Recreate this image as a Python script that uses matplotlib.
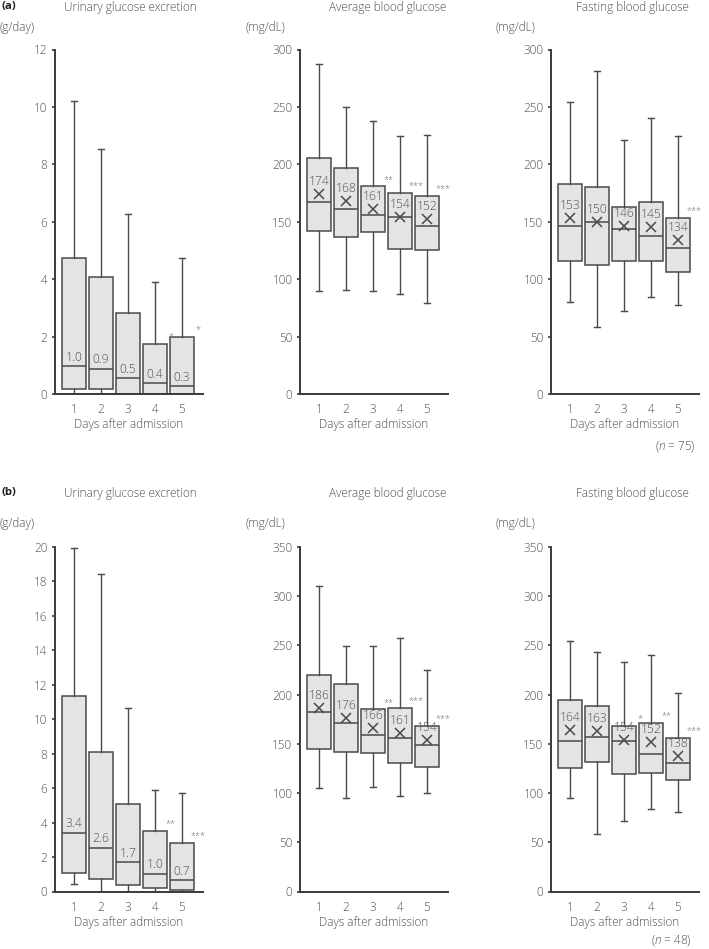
import matplotlib.pyplot as plt

plt.rcParams['font.family'] = ['Open Sans', 'DejaVu Sans']
plt.rcParams['font.weight'] = 'light'
plt.rcParams['axes.labelweight'] = 'light'
plt.rcParams['mathtext.fontset'] = 'custom'
plt.rcParams['mathtext.rm'] = 'Open Sans:light'
plt.rcParams['mathtext.it'] = 'Open Sans:italic:light'

# ---- data ----
days = [1, 2, 3, 4, 5]

# (a) n = 75
a_uge_lo = [0.0, 0.0, 0.0, 0.0, 0.0]
a_uge_q1 = [0.17, 0.17, 0.0, 0.0, 0.0]
a_uge_med = [0.97, 0.87, 0.55, 0.37, 0.27]
a_uge_q3 = [4.73, 4.08, 2.82, 1.75, 1.99]
a_uge_hi = [10.2, 8.53, 6.28, 3.9, 4.74]
a_uge_lab = [1.0, 0.9, 0.5, 0.4, 0.3]
a_uge_sig = ['', '', '', '*', '*']

a_abg_lo = [89.5, 91, 90, 87, 79]
a_abg_q1 = [142, 137, 141, 126, 125.6]
a_abg_med = [167, 161.3, 155.8, 154, 146.5]
a_abg_q3 = [205.8, 196.5, 180.8, 175, 172.7]
a_abg_hi = [287, 250, 238, 224.4, 225.3]
a_abg_mean = [174, 168, 161, 154, 152]
a_abg_sig = ['', '', '**', '***', '***']

a_fbg_lo = [79.7, 58.7, 72.4, 84.3, 77.9]
a_fbg_q1 = [115.7, 112, 115.7, 115.7, 106.4]
a_fbg_med = [146, 150, 143.6, 137.8, 127]
a_fbg_q3 = [183, 180, 162.8, 167.4, 153.2]
a_fbg_hi = [254, 281, 221, 240.4, 225]
a_fbg_mean = [153, 150, 146, 145, 134]
a_fbg_sig = ['', '', '', '', '***']

# (b) n = 48
b_uge_lo = [0.46, 0.0, 0.0, 0.0, 0.0]
b_uge_q1 = [1.06, 0.72, 0.35, 0.19, 0.06]
b_uge_med = [3.4, 2.55, 1.7, 1.03, 0.64]
b_uge_q3 = [11.36, 8.08, 5.07, 3.52, 2.8]
b_uge_hi = [19.92, 18.43, 10.68, 5.92, 5.73]
b_uge_lab = [3.4, 2.6, 1.7, 1.0, 0.7]
b_uge_sig = ['', '', '', '**', '***']

b_abg_lo = [105.4, 95.2, 106.5, 97, 100.3]
b_abg_q1 = [145.2, 141.8, 140.8, 131, 126]
b_abg_med = [182, 171, 158.5, 156, 149.3]
b_abg_q3 = [219.7, 210.9, 185, 186.4, 168]
b_abg_hi = [310.2, 249.7, 249, 257.8, 225.5]
b_abg_mean = [186, 176, 166, 161, 154]
b_abg_sig = ['', '', '**', '***', '***']

b_fbg_lo = [94.8, 58.6, 71.4, 84.1, 80.7]
b_fbg_q1 = [125.6, 131.6, 119.3, 120.3, 112.9]
b_fbg_med = [152.4, 157.1, 153.4, 139.4, 131]
b_fbg_q3 = [194.3, 188.2, 168.2, 171.5, 156.1]
b_fbg_hi = [254.2, 243.8, 233.1, 240.5, 201.3]
b_fbg_mean = [164, 163, 154, 152, 138]
b_fbg_sig = ['', '', '*', '**', '***']

titles = ['Urinary glucose excretion', 'Average blood glucose', 'Fasting blood glucose']
units = ['(g/day)', '(mg/dL)', '(mg/dL)']

TXT = '#505050'
EDGE = '#4a4a4a'
FILL = '#e4e4e4'
FS = 8.5

W, H = 709, 949
fig = plt.figure(figsize=(W / 100, H / 100), dpi=100)


def add_ax(left, top, right, bottom):
    return fig.add_axes([left / W, 1 - bottom / H, (right - left) / W, (bottom - top) / H])


def draw(ax, lo, q1, med, q3, hi, ymax, ystep, mean=None, labels=None, sig=None):
    stats = []
    for i in range(len(days)):
        s = dict(med=med[i], q1=q1[i], q3=q3[i], whislo=lo[i], whishi=hi[i], fliers=[])
        if mean is not None:
            s['mean'] = mean[i]
        stats.append(s)
    ax.bxp(stats, positions=days, widths=0.88, capwidths=0.25,
           showmeans=mean is not None, patch_artist=True,
           boxprops=dict(facecolor=FILL, edgecolor=EDGE, linewidth=1.1),
           medianprops=dict(color=EDGE, linewidth=1.1),
           whiskerprops=dict(color=EDGE, linewidth=1.0),
           capprops=dict(color=EDGE, linewidth=1.0),
           meanprops=dict(marker='x', markersize=7, markeredgecolor=EDGE,
                          markeredgewidth=1.1, linestyle='none'))
    for i, x in enumerate(days):
        if mean is not None:
            ax.annotate(f'{mean[i]:.0f}', (x, mean[i]), xytext=(0, 9), textcoords='offset points',
                        ha='center', va='center', fontsize=FS + 0.2, color=TXT)
        else:
            ax.annotate(f'{labels[i]:.1f}', (x, med[i]), xytext=(0, 6.5), textcoords='offset points',
                        ha='center', va='center', fontsize=FS + 0.2, color=TXT)
        if sig[i]:
            ax.annotate(sig[i], (x + 0.58, q3[i]), xytext=(0, 2), textcoords='offset points',
                        ha='center', va='bottom', fontsize=6.5, color='#777777')
    ax.set_xlim(0.3, 5.78)
    ax.set_ylim(0, ymax)
    ax.set_yticks([ystep * k for k in range(int(round(ymax / ystep)) + 1)])
    ax.set_xticks(days)
    ax.set_xticklabels([str(d) for d in days])
    for side in ['top', 'right']:
        ax.spines[side].set_visible(False)
    for side in ['left', 'bottom']:
        ax.spines[side].set_color('#3a3a3a')
        ax.spines[side].set_linewidth(1.4)
    ax.tick_params(axis='y', direction='out', length=2.5, width=1.2, color='#3a3a3a',
                   labelsize=FS, labelcolor=TXT, pad=3)
    ax.tick_params(axis='x', length=0, labelsize=FS, labelcolor=TXT, pad=6.5)
    ax.set_xlabel('Days after admission', fontsize=FS, color=TXT, labelpad=1.5)
    ax.patch.set_alpha(0)


lefts = [55, 300, 551]
width = 148
rows = [(49.5, 394), (547, 891.5)]
title_y = [7, 493]
unit_y = [28, 524]
title_x = [130, 388, 632]

panels = [
    [dict(lo=a_uge_lo, q1=a_uge_q1, med=a_uge_med, q3=a_uge_q3, hi=a_uge_hi, labels=a_uge_lab, sig=a_uge_sig, ymax=12, ystep=2),
     dict(lo=a_abg_lo, q1=a_abg_q1, med=a_abg_med, q3=a_abg_q3, hi=a_abg_hi, mean=a_abg_mean, sig=a_abg_sig, ymax=300, ystep=50),
     dict(lo=a_fbg_lo, q1=a_fbg_q1, med=a_fbg_med, q3=a_fbg_q3, hi=a_fbg_hi, mean=a_fbg_mean, sig=a_fbg_sig, ymax=300, ystep=50)],
    [dict(lo=b_uge_lo, q1=b_uge_q1, med=b_uge_med, q3=b_uge_q3, hi=b_uge_hi, labels=b_uge_lab, sig=b_uge_sig, ymax=20, ystep=2),
     dict(lo=b_abg_lo, q1=b_abg_q1, med=b_abg_med, q3=b_abg_q3, hi=b_abg_hi, mean=b_abg_mean, sig=b_abg_sig, ymax=350, ystep=50),
     dict(lo=b_fbg_lo, q1=b_fbg_q1, med=b_fbg_med, q3=b_fbg_q3, hi=b_fbg_hi, mean=b_fbg_mean, sig=b_fbg_sig, ymax=350, ystep=50)],
]

for r, (top, bottom) in enumerate(rows):
    for c in range(3):
        ax = add_ax(lefts[c], top, lefts[c] + width, bottom)
        draw(ax, **panels[r][c])
        fig.text(title_x[c] / W, 1 - title_y[r] / H, titles[c], ha='center', va='center',
                 fontsize=FS, color=TXT)
        fig.text((lefts[c] - 55) / W, 1 - unit_y[r] / H, units[c], ha='left', va='center',
                 fontsize=FS, color=TXT)
    fig.text(1 / W, 1 - title_y[r] / H, '(a)' if r == 0 else '(b)', ha='left', va='center',
             fontsize=8.2, fontweight='bold', color='#222222')

fig.text(696 / W, 1 - 447 / H, '($\\it{n}$ = 75)', ha='right', va='center', fontsize=FS, color=TXT)
fig.text(692 / W, 1 - 940 / H, '($\\it{n}$ = 48)', ha='right', va='center', fontsize=FS, color=TXT)

fig.savefig('out.png', dpi=100)
